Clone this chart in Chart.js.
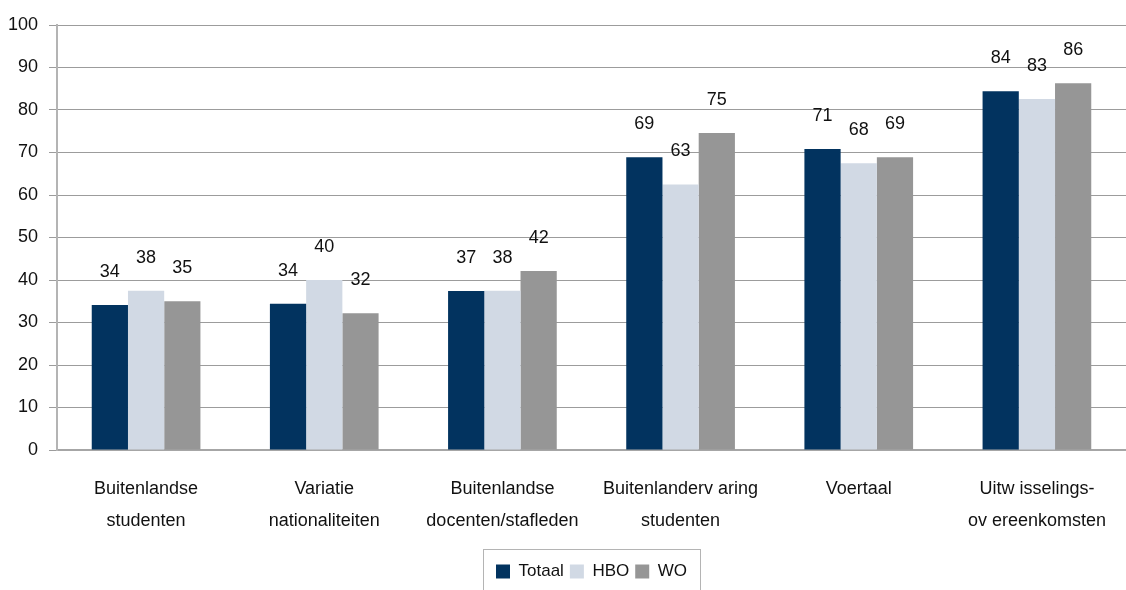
<!DOCTYPE html>
<html>
<head>
<meta charset="utf-8">
<script src="https://cdn.jsdelivr.net/npm/chart.js@4/dist/chart.umd.min.js"></script>
<style>
  html, body { margin: 0; padding: 0; background: #fff; }
</style>
</head>
<body>
<canvas id="grafiek" width="1126" height="590"></canvas>
<script>
const categorieen = [
  ['Buitenlandse', 'studenten'],
  ['Variatie', 'nationaliteiten'],
  ['Buitenlandse', 'docenten/stafleden'],
  ['Buitenlanderv aring', 'studenten'],
  ['Voertaal'],
  ['Uitw isselings-', 'ov ereenkomsten']
];
const totaal = [34.1, 34.4, 37.4, 68.9, 70.8, 84.4];
const hbo = [37.5, 40.0, 37.5, 62.5, 67.5, 82.6];
const wo = [35.0, 32.2, 42.1, 74.6, 68.9, 86.3];
const yTicks = [0, 10, 20, 30, 40, 50, 60, 70, 80, 90, 100];

const lettertype = "'Liberation Sans', Arial, sans-serif";
Chart.defaults.font.family = lettertype;
Chart.defaults.color = '#111';

// waarden boven de staven
const waardeLabels = {
  id: 'waardeLabels',
  afterDatasetsDraw(chart) {
    const ctx = chart.ctx;
    ctx.save();
    ctx.font = '18px ' + lettertype;
    ctx.fillStyle = '#111';
    ctx.textAlign = 'center';
    ctx.textBaseline = 'middle';
    chart.data.datasets.forEach((ds, i) => {
      chart.getDatasetMeta(i).data.forEach((bar, j) => {
        ctx.fillText(Math.round(ds.data[j]), bar.x, bar.y - 33);
      });
    });
    ctx.restore();
  }
};

// kader rond de legenda
const legendaKader = {
  id: 'legendaKader',
  afterDraw(chart) {
    const boxes = chart.legend.legendHitBoxes;
    if (!boxes || !boxes.length) return;
    const first = boxes[0], last = boxes[boxes.length - 1];
    const ctx = chart.ctx;
    ctx.save();
    ctx.strokeStyle = '#b4b4b4';
    ctx.lineWidth = 1;
    ctx.strokeRect(Math.round(first.left) - 12.5, Math.round(first.top) - 13.5,
      Math.round(last.left + last.width - first.left) + 26, 60);
    ctx.restore();
  }
};

new Chart(document.getElementById('grafiek'), {
  type: 'bar',
  data: {
    labels: categorieen,
    datasets: [
      { label: 'Totaal', data: totaal, backgroundColor: '#02335f' },
      { label: 'HBO', data: hbo, backgroundColor: '#d1d9e4' },
      { label: 'WO', data: wo, backgroundColor: '#969696' }
    ]
  },
  options: {
    responsive: false,
    animation: false,
    layout: { padding: { top: 25, right: 0, left: 0, bottom: 0 } },
    datasets: {
      bar: { categoryPercentage: 0.61, barPercentage: 1.0 }
    },
    scales: {
      x: {
        grid: { display: false },
        border: { display: true, color: '#a6a6a6', width: 2 },
        ticks: {
          padding: 15,
          maxRotation: 0,
          font: { size: 18, lineHeight: 1.78 },
          color: '#111'
        },
        afterFit(scale) { scale.height = 107; }
      },
      y: {
        min: 0,
        max: 100,
        afterBuildTicks(scale) { scale.ticks = yTicks.map(v => ({ value: v })); },
        grid: { color: '#9c9c9c', lineWidth: 1, tickLength: 8 },
        border: { display: true, color: '#b4b4b4', width: 2 },
        ticks: { padding: 11, font: { size: 18 }, color: '#111' },
        afterFit(scale) { scale.width = 57; }
      }
    },
    plugins: {
      legend: {
        position: 'bottom',
        fullSize: false,
        labels: {
          boxWidth: 14,
          boxHeight: 14,
          padding: 6,
          font: { size: 17 },
          color: '#111'
        }
      },
      tooltip: { enabled: false }
    }
  },
  plugins: [waardeLabels, legendaKader]
});
</script>
</body>
</html>
